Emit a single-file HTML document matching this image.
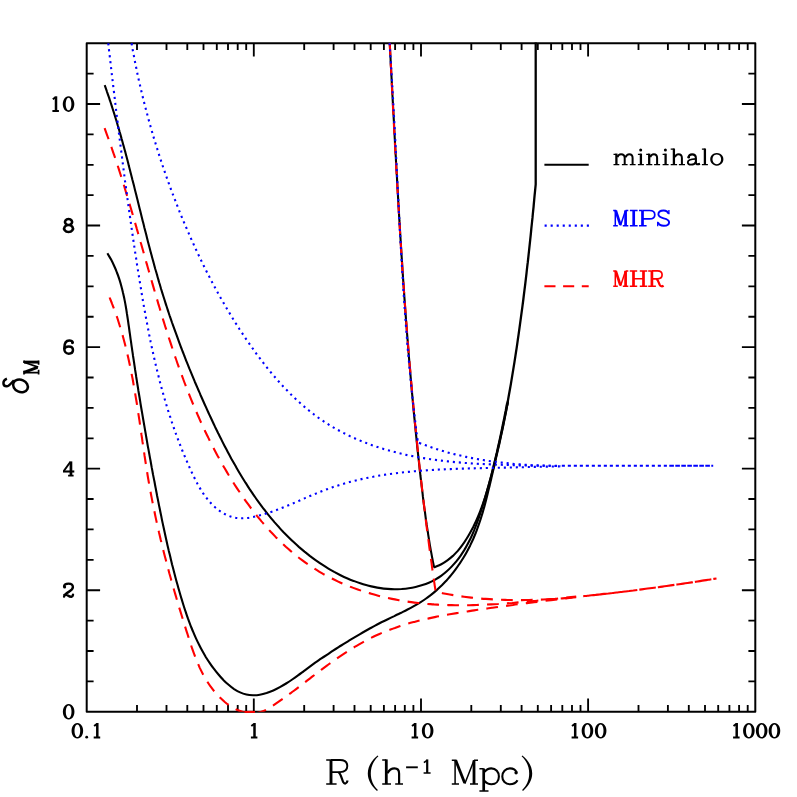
<!DOCTYPE html>
<html><head><meta charset="utf-8"><title>plot</title>
<style>html,body{margin:0;padding:0;background:#fff}svg{display:block;will-change:transform}body{font-family:"Liberation Sans",sans-serif}</style></head><body>
<svg width="797" height="797" viewBox="0 0 797 797">
<rect width="797" height="797" fill="#fff"/>
<defs><clipPath id="c"><rect x="86.7" y="42.4" width="668.6" height="669.3"/></clipPath></defs>
<path d="M137.0,711.8v-6.9M137.0,43.2v6.9M166.5,711.8v-6.9M166.5,43.2v6.9M187.3,711.8v-6.9M187.3,43.2v6.9M203.5,711.8v-6.9M203.5,43.2v6.9M216.8,711.8v-6.9M216.8,43.2v6.9M228.0,711.8v-6.9M228.0,43.2v6.9M237.7,711.8v-6.9M237.7,43.2v6.9M246.2,711.8v-6.9M246.2,43.2v6.9M253.8,711.8v-13.4M253.8,43.2v13.4M304.2,711.8v-6.9M304.2,43.2v6.9M333.6,711.8v-6.9M333.6,43.2v6.9M354.5,711.8v-6.9M354.5,43.2v6.9M370.7,711.8v-6.9M370.7,43.2v6.9M383.9,711.8v-6.9M383.9,43.2v6.9M395.1,711.8v-6.9M395.1,43.2v6.9M404.8,711.8v-6.9M404.8,43.2v6.9M413.4,711.8v-6.9M413.4,43.2v6.9M421.0,711.8v-13.4M421.0,43.2v13.4M471.3,711.8v-6.9M471.3,43.2v6.9M500.8,711.8v-6.9M500.8,43.2v6.9M521.6,711.8v-6.9M521.6,43.2v6.9M537.8,711.8v-6.9M537.8,43.2v6.9M551.1,711.8v-6.9M551.1,43.2v6.9M562.3,711.8v-6.9M562.3,43.2v6.9M572.0,711.8v-6.9M572.0,43.2v6.9M580.5,711.8v-6.9M580.5,43.2v6.9M588.1,711.8v-13.4M588.1,43.2v13.4M638.5,711.8v-6.9M638.5,43.2v6.9M667.9,711.8v-6.9M667.9,43.2v6.9M688.8,711.8v-6.9M688.8,43.2v6.9M705.0,711.8v-6.9M705.0,43.2v6.9M718.2,711.8v-6.9M718.2,43.2v6.9M729.4,711.8v-6.9M729.4,43.2v6.9M739.1,711.8v-6.9M739.1,43.2v6.9M747.7,711.8v-6.9M747.7,43.2v6.9M86.7,681.4h6.9M755.3,681.4h-6.9M86.7,651.0h6.9M755.3,651.0h-6.9M86.7,620.6h6.9M755.3,620.6h-6.9M86.7,590.2h13.4M755.3,590.2h-13.4M86.7,559.8h6.9M755.3,559.8h-6.9M86.7,529.4h6.9M755.3,529.4h-6.9M86.7,499.0h6.9M755.3,499.0h-6.9M86.7,468.6h13.4M755.3,468.6h-13.4M86.7,438.3h6.9M755.3,438.3h-6.9M86.7,407.9h6.9M755.3,407.9h-6.9M86.7,377.5h6.9M755.3,377.5h-6.9M86.7,347.1h13.4M755.3,347.1h-13.4M86.7,316.7h6.9M755.3,316.7h-6.9M86.7,286.3h6.9M755.3,286.3h-6.9M86.7,255.9h6.9M755.3,255.9h-6.9M86.7,225.5h13.4M755.3,225.5h-13.4M86.7,195.1h6.9M755.3,195.1h-6.9M86.7,164.8h6.9M755.3,164.8h-6.9M86.7,134.4h6.9M755.3,134.4h-6.9M86.7,104.0h13.4M755.3,104.0h-13.4M86.7,73.6h6.9M755.3,73.6h-6.9" stroke="#000" stroke-width="1.85" fill="none"/>
<rect x="86.7" y="43.2" width="668.6" height="668.5" fill="none" stroke="#000" stroke-width="2" stroke-linejoin="round"/>
<g clip-path="url(#c)" fill="none" stroke-linejoin="round">
<g stroke="#000" stroke-width="2.1">
<path stroke-width="2.3" d="M535.7,40L535.7,184.3L535.7,184.3C535.5,186.2 535.0,191.7 534.6,195.4C534.3,199.1 533.9,202.8 533.6,206.6C533.2,210.3 532.8,214.0 532.5,217.7C532.1,221.4 531.7,225.1 531.3,228.8C531.0,232.5 530.6,236.2 530.2,239.9C529.8,243.6 529.4,247.3 529.0,251.0C528.6,254.7 528.2,258.4 527.8,262.2C527.3,265.9 526.9,269.6 526.5,273.3C526.1,277.0 525.6,280.7 525.2,284.4C524.7,288.1 524.3,291.8 523.8,295.5C523.4,299.2 522.9,302.9 522.4,306.6C521.9,310.3 521.4,313.9 520.9,317.6C520.4,321.3 519.9,325.0 519.4,328.7C518.9,332.4 518.4,336.1 517.8,339.8C517.3,343.5 516.8,347.2 516.2,350.8C515.6,354.5 515.1,358.2 514.5,361.9C513.9,365.6 513.3,369.2 512.7,372.9C512.1,376.6 511.5,380.3 510.9,383.9C510.2,387.6 509.6,391.3 508.9,395.0C508.3,398.6 507.3,404.1 506.9,406.0"/>
<path d="M104.7,85.1C105.1,86.2 106.3,89.5 107.0,91.8C107.8,94.0 108.6,96.2 109.3,98.4C110.0,100.6 110.8,102.9 111.5,105.1C112.2,107.3 112.9,109.6 113.6,111.8C114.3,114.1 115.0,116.3 115.7,118.5C116.4,120.8 117.1,123.0 117.7,125.3C118.4,127.5 119.1,129.8 119.7,132.1C120.4,134.3 121.0,136.6 121.6,138.8C122.3,141.1 122.9,143.4 123.5,145.6C124.1,147.9 124.7,150.2 125.4,152.4C126.0,154.7 126.6,157.0 127.2,159.3C127.8,161.5 128.4,163.8 128.9,166.1C129.5,168.4 130.1,170.6 130.7,172.9C131.3,175.2 131.9,177.5 132.4,179.8C133.0,182.0 133.6,184.3 134.2,186.6C134.7,188.9 135.3,191.2 135.9,193.5C136.5,195.7 137.0,198.0 137.6,200.3C138.2,202.6 138.7,204.9 139.3,207.2C139.9,209.5 140.4,211.7 141.0,214.0C141.6,216.3 142.1,218.6 142.7,220.9C143.3,223.2 143.9,225.4 144.4,227.7C145.0,230.0 145.6,232.3 146.2,234.6C146.7,236.8 147.3,239.1 147.9,241.4C148.5,243.7 149.1,246.0 149.7,248.2C150.3,250.5 150.9,252.8 151.5,255.1C152.1,257.3 152.7,259.6 153.4,261.9C154.0,264.1 154.6,266.4 155.2,268.7C155.9,270.9 156.5,273.2 157.2,275.4C157.8,277.7 158.5,280.0 159.1,282.2C159.8,284.5 160.5,286.7 161.1,289.0C161.8,291.2 162.5,293.5 163.2,295.7C163.9,297.9 164.6,300.2 165.3,302.4C166.0,304.7 166.8,306.9 167.5,309.1C168.2,311.4 169.0,313.6 169.7,315.8C170.5,318.0 171.3,320.2 172.0,322.5C172.8,324.7 173.6,326.9 174.4,329.1C175.2,331.3 176.0,333.5 176.8,335.7C177.6,338.0 178.4,340.2 179.2,342.4C180.0,344.6 180.8,346.8 181.7,349.0C182.5,351.2 183.4,353.3 184.2,355.5C185.1,357.7 185.9,359.9 186.8,362.1C187.7,364.3 188.6,366.5 189.4,368.7C190.3,370.8 191.2,373.0 192.1,375.2C193.0,377.4 193.9,379.5 194.8,381.7C195.8,383.9 196.7,386.0 197.6,388.2C198.5,390.4 199.5,392.5 200.4,394.7C201.4,396.9 202.3,399.0 203.3,401.2C204.2,403.3 205.2,405.5 206.2,407.6C207.1,409.8 208.1,411.9 209.1,414.1C210.1,416.2 211.1,418.4 212.1,420.5C213.1,422.7 214.1,424.8 215.1,426.9C216.2,429.0 217.2,431.2 218.2,433.3C219.3,435.4 220.3,437.5 221.4,439.6C222.4,441.7 223.5,443.8 224.6,445.9C225.7,448.0 226.8,450.1 227.9,452.2C229.0,454.3 230.1,456.3 231.2,458.4C232.4,460.5 233.5,462.5 234.7,464.6C235.8,466.6 237.0,468.6 238.2,470.7C239.4,472.7 240.6,474.7 241.8,476.7C243.0,478.7 244.3,480.7 245.5,482.7C246.8,484.6 248.0,486.6 249.3,488.6C250.6,490.5 251.9,492.4 253.2,494.4C254.5,496.3 255.9,498.2 257.2,500.1C258.6,502.0 260.0,503.9 261.4,505.8C262.7,507.6 264.2,509.5 265.6,511.3C267.0,513.1 268.5,515.0 270.0,516.8C271.4,518.6 272.9,520.3 274.4,522.1C276.0,523.9 277.5,525.6 279.1,527.3C280.6,529.1 282.2,530.8 283.8,532.5C285.5,534.2 287.1,535.8 288.8,537.5C290.4,539.1 292.1,540.7 293.9,542.3C295.6,543.9 297.3,545.5 299.1,547.1C300.9,548.6 302.7,550.1 304.5,551.6C306.4,553.1 308.3,554.6 310.1,556.1C312.0,557.5 314.0,559.0 315.9,560.3C317.9,561.7 319.9,563.1 321.9,564.4C323.9,565.7 325.9,567.0 328.0,568.3C330.0,569.5 332.1,570.7 334.2,571.9C336.3,573.0 338.4,574.1 340.5,575.2C342.7,576.3 344.8,577.3 347.0,578.2C349.2,579.2 351.4,580.1 353.6,580.9C355.8,581.8 358.0,582.6 360.3,583.3C362.5,584.1 364.7,584.7 367.0,585.3C369.3,585.9 371.5,586.5 373.8,586.9C376.1,587.4 378.4,587.8 380.7,588.1C383.0,588.5 385.3,588.7 387.7,588.9C390.0,589.1 392.3,589.2 394.6,589.2C397.0,589.2 399.3,589.1 401.6,589.0C404.0,588.8 406.3,588.6 408.7,588.2C411.0,587.9 413.3,587.5 415.6,587.0C417.9,586.5 420.1,585.8 422.4,585.1C424.6,584.4 426.8,583.6 428.9,582.7C431.1,581.7 433.2,580.7 435.2,579.6C437.2,578.4 439.2,577.2 441.1,575.8C442.9,574.5 444.8,573.0 446.5,571.5C448.3,569.9 450.0,568.3 451.6,566.6C453.2,564.9 454.8,563.2 456.3,561.4C457.8,559.5 459.2,557.7 460.5,555.8C461.9,553.8 463.1,551.9 464.4,549.9C465.6,547.9 466.7,545.9 467.8,543.8C468.9,541.7 470.0,539.6 471.0,537.5C471.9,535.4 472.9,533.2 473.8,531.1C474.7,528.9 475.6,526.7 476.4,524.5C477.2,522.3 478.0,520.0 478.8,517.8C479.6,515.6 480.3,513.3 481.0,511.0C481.7,508.8 482.4,506.5 483.1,504.2C483.8,502.0 484.5,499.7 485.2,497.4C485.8,495.1 486.5,492.9 487.1,490.6C487.8,488.3 488.4,486.0 489.1,483.7C489.7,481.4 490.3,479.2 490.9,476.9C491.5,474.6 492.1,472.3 492.7,470.0C493.3,467.7 493.9,465.5 494.5,463.2C495.0,460.9 495.6,458.6 496.2,456.3C496.7,454.0 497.3,451.7 497.8,449.4C498.3,447.1 498.9,444.8 499.4,442.5C499.9,440.2 500.4,437.9 500.9,435.6C501.4,433.3 501.9,431.0 502.4,428.8C502.9,426.5 503.4,424.2 503.9,421.8C504.3,419.5 504.8,417.2 505.3,414.9C505.7,412.6 506.2,410.3 506.6,408.0C507.1,405.7 507.7,402.3 508.0,401.1"/>
<path d="M107.4,253.3C108.0,254.4 109.9,257.5 111.1,259.6C112.2,261.7 113.2,263.8 114.2,266.0C115.2,268.1 116.1,270.3 116.9,272.5C117.8,274.7 118.6,276.9 119.3,279.1C120.0,281.4 120.7,283.6 121.3,285.9C121.9,288.1 122.5,290.4 123.0,292.7C123.6,295.0 124.0,297.3 124.5,299.6C125.0,301.9 125.4,304.2 125.8,306.5C126.2,308.8 126.6,311.2 126.9,313.5C127.3,315.8 127.6,318.2 128.0,320.5C128.3,322.9 128.6,325.2 129.0,327.5C129.3,329.9 129.6,332.2 130.0,334.6C130.3,336.9 130.6,339.3 131.0,341.6C131.3,344.0 131.6,346.3 132.0,348.6C132.3,351.0 132.7,353.3 133.0,355.7C133.4,358.0 133.7,360.3 134.1,362.7C134.4,365.0 134.8,367.4 135.1,369.7C135.5,372.0 135.9,374.4 136.2,376.7C136.6,379.0 136.9,381.4 137.3,383.7C137.7,386.0 138.1,388.4 138.4,390.7C138.8,393.0 139.2,395.4 139.6,397.7C140.0,400.0 140.3,402.4 140.7,404.7C141.1,407.0 141.5,409.4 141.9,411.7C142.3,414.0 142.7,416.3 143.1,418.7C143.5,421.0 143.9,423.3 144.3,425.6C144.7,428.0 145.1,430.3 145.5,432.6C145.9,434.9 146.3,437.3 146.7,439.6C147.1,441.9 147.5,444.2 147.9,446.6C148.4,448.9 148.8,451.2 149.2,453.5C149.6,455.8 150.0,458.2 150.5,460.5C150.9,462.8 151.3,465.1 151.7,467.4C152.2,469.7 152.6,472.1 153.0,474.4C153.5,476.7 153.9,479.0 154.4,481.3C154.8,483.6 155.2,485.9 155.7,488.2C156.1,490.6 156.6,492.9 157.0,495.2C157.5,497.5 157.9,499.8 158.4,502.1C158.8,504.4 159.3,506.7 159.8,509.0C160.2,511.3 160.7,513.6 161.2,515.9C161.6,518.2 162.1,520.6 162.6,522.9C163.1,525.2 163.6,527.5 164.1,529.8C164.6,532.1 165.1,534.4 165.6,536.7C166.1,538.9 166.6,541.2 167.1,543.5C167.6,545.8 168.2,548.1 168.7,550.4C169.3,552.7 169.8,555.0 170.4,557.3C170.9,559.6 171.5,561.9 172.0,564.2C172.6,566.5 173.2,568.7 173.8,571.0C174.4,573.3 175.0,575.6 175.6,577.9C176.2,580.2 176.8,582.4 177.5,584.7C178.1,587.0 178.7,589.3 179.4,591.5C180.1,593.8 180.7,596.1 181.4,598.4C182.1,600.6 182.8,602.9 183.5,605.2C184.2,607.4 184.9,609.7 185.7,611.9C186.5,614.2 187.2,616.4 188.0,618.7C188.8,620.9 189.6,623.1 190.5,625.3C191.4,627.5 192.2,629.7 193.2,631.9C194.1,634.1 195.0,636.3 196.0,638.4C197.0,640.6 198.0,642.7 199.1,644.8C200.1,646.9 201.2,649.0 202.4,651.1C203.5,653.1 204.7,655.2 205.9,657.2C207.2,659.2 208.5,661.2 209.8,663.1C211.1,665.1 212.5,667.0 214.0,668.9C215.4,670.8 216.9,672.7 218.5,674.5C220.0,676.4 221.7,678.2 223.3,679.9C225.0,681.6 226.8,683.3 228.6,684.8C230.4,686.4 232.2,687.8 234.1,689.1C236.0,690.3 238.0,691.5 240.1,692.4C242.1,693.3 244.2,694.0 246.4,694.5C248.5,695.0 250.8,695.2 253.0,695.3C255.2,695.3 257.5,695.1 259.8,694.7C262.1,694.4 264.4,693.8 266.6,693.1C268.9,692.3 271.1,691.4 273.3,690.5C275.6,689.5 277.7,688.4 279.9,687.2C282.0,686.0 284.1,684.8 286.1,683.5C288.2,682.2 290.2,680.9 292.2,679.5C294.1,678.2 296.1,676.8 298.0,675.4C300.0,674.0 301.9,672.5 303.8,671.1C305.7,669.7 307.6,668.3 309.5,666.9C311.4,665.5 313.3,664.1 315.2,662.7C317.2,661.4 319.1,660.0 321.0,658.7C323.0,657.4 324.9,656.1 326.9,654.8C328.8,653.5 330.8,652.2 332.7,650.9C334.7,649.6 336.6,648.4 338.6,647.1C340.6,645.9 342.6,644.6 344.6,643.4C346.6,642.2 348.6,640.9 350.6,639.7C352.6,638.5 354.6,637.3 356.6,636.1C358.6,634.9 360.7,633.7 362.7,632.5C364.8,631.3 366.8,630.2 368.9,629.0C370.9,627.9 373.0,626.7 375.1,625.6C377.2,624.5 379.3,623.4 381.4,622.3C383.6,621.3 385.7,620.2 387.8,619.2C390.0,618.1 392.1,617.1 394.3,616.1C396.4,615.0 398.6,614.0 400.7,613.0C402.9,611.9 405.0,610.9 407.1,609.8C409.2,608.7 411.3,607.6 413.4,606.4C415.4,605.3 417.5,604.1 419.5,602.9C421.5,601.7 423.4,600.4 425.4,599.0C427.3,597.7 429.2,596.3 431.0,594.9C432.9,593.4 434.7,591.9 436.4,590.4C438.2,588.8 439.9,587.2 441.6,585.6C443.2,583.9 444.9,582.2 446.5,580.5C448.0,578.7 449.6,577.0 451.1,575.1C452.6,573.3 454.0,571.5 455.4,569.6C456.8,567.7 458.2,565.8 459.5,563.8C460.9,561.8 462.1,559.9 463.4,557.8C464.6,555.8 465.8,553.8 466.9,551.7C468.0,549.6 469.1,547.5 470.2,545.4C471.2,543.3 472.2,541.2 473.2,539.0C474.1,536.8 475.0,534.7 475.9,532.5C476.7,530.3 477.6,528.1 478.3,525.9C479.1,523.6 479.9,521.4 480.6,519.2C481.3,516.9 482.0,514.6 482.7,512.4C483.3,510.1 484.0,507.8 484.6,505.6C485.2,503.3 485.8,501.0 486.4,498.7C487.0,496.4 487.6,494.1 488.1,491.8C488.7,489.5 489.2,487.2 489.8,484.9C490.3,482.6 490.9,480.3 491.4,478.0C492.0,475.7 492.5,473.4 493.0,471.1C493.6,468.8 494.1,466.5 494.7,464.2C495.2,461.9 495.7,459.6 496.2,457.3C496.8,455.0 497.3,452.7 497.8,450.4C498.3,448.1 498.9,445.8 499.4,443.5C499.9,441.2 500.4,438.9 500.9,436.6C501.4,434.3 501.9,432.0 502.4,429.7C502.9,427.4 503.4,425.1 503.8,422.8C504.3,420.4 504.8,418.1 505.2,415.8C505.7,413.5 506.2,411.2 506.6,408.9C507.0,406.6 507.7,403.1 507.9,402.0"/>
<path d="M389.7,43.3C389.8,44.5 390.0,48.0 390.1,50.4C390.2,52.8 390.3,55.1 390.5,57.5C390.6,59.8 390.7,62.2 390.8,64.6C391.0,66.9 391.1,69.3 391.2,71.7C391.3,74.0 391.5,76.4 391.6,78.8C391.7,81.1 391.8,83.5 392.0,85.9C392.1,88.2 392.2,90.6 392.3,93.0C392.5,95.3 392.6,97.7 392.7,100.1C392.9,102.4 393.0,104.8 393.1,107.2C393.2,109.5 393.4,111.9 393.5,114.3C393.6,116.6 393.7,119.0 393.9,121.3C394.0,123.7 394.1,126.1 394.2,128.4C394.4,130.8 394.5,133.2 394.6,135.5C394.7,137.9 394.9,140.3 395.0,142.6C395.1,145.0 395.3,147.4 395.4,149.7C395.5,152.1 395.6,154.5 395.8,156.8C395.9,159.2 396.0,161.6 396.2,163.9C396.3,166.3 396.4,168.6 396.6,171.0C396.7,173.4 396.8,175.7 397.0,178.1C397.1,180.5 397.2,182.8 397.4,185.2C397.5,187.6 397.6,189.9 397.8,192.3C397.9,194.7 398.0,197.0 398.2,199.4C398.3,201.7 398.4,204.1 398.6,206.5C398.7,208.8 398.9,211.2 399.0,213.6C399.1,215.9 399.3,218.3 399.4,220.7C399.6,223.0 399.7,225.4 399.9,227.7C400.0,230.1 400.1,232.5 400.3,234.8C400.4,237.2 400.6,239.6 400.7,241.9C400.9,244.3 401.0,246.7 401.2,249.0C401.3,251.4 401.5,253.7 401.6,256.1C401.8,258.5 401.9,260.8 402.1,263.2C402.2,265.6 402.4,267.9 402.5,270.3C402.7,272.6 402.9,275.0 403.0,277.4C403.2,279.7 403.3,282.1 403.5,284.5C403.7,286.8 403.8,289.2 404.0,291.5C404.2,293.9 404.3,296.3 404.5,298.6C404.7,301.0 404.8,303.4 405.0,305.7C405.2,308.1 405.3,310.4 405.5,312.8C405.7,315.2 405.9,317.5 406.0,319.9C406.2,322.2 406.4,324.6 406.6,327.0C406.7,329.3 406.9,331.7 407.1,334.0C407.3,336.4 407.5,338.8 407.7,341.1C407.8,343.5 408.0,345.8 408.2,348.2C408.4,350.6 408.6,352.9 408.8,355.3C409.0,357.6 409.2,360.0 409.4,362.4C409.6,364.7 409.8,367.1 410.0,369.4C410.2,371.8 410.4,374.2 410.6,376.5C410.8,378.9 411.0,381.2 411.2,383.6C411.4,386.0 411.6,388.3 411.8,390.7C412.0,393.0 412.3,395.4 412.5,397.8C412.7,400.1 412.9,402.5 413.1,404.8C413.3,407.2 413.6,409.5 413.8,411.9C414.0,414.3 414.2,416.6 414.5,419.0C414.7,421.3 414.9,423.7 415.2,426.0C415.4,428.4 415.6,430.8 415.9,433.1C416.1,435.5 416.4,437.8 416.6,440.2C416.8,442.5 417.1,444.9 417.3,447.3C417.6,449.6 417.8,452.0 418.1,454.3C418.3,456.7 418.6,459.0 418.9,461.4C419.1,463.8 419.4,466.1 419.6,468.5C419.9,470.8 420.2,473.2 420.4,475.5C420.7,477.9 421.0,480.2 421.3,482.6C421.5,484.9 421.8,487.3 422.1,489.7C422.4,492.0 422.7,494.4 422.9,496.7C423.2,499.1 423.5,501.4 423.8,503.8C424.1,506.1 424.4,508.5 424.8,510.8C425.1,513.2 425.4,515.5 425.7,517.8C426.0,520.2 426.4,522.5 426.7,524.9C427.1,527.2 427.4,529.6 427.8,531.9C428.1,534.2 428.5,536.6 428.9,538.9C429.3,541.2 429.6,543.6 430.0,545.9C430.4,548.2 430.8,550.6 431.3,552.9C431.7,555.2 432.1,557.5 432.6,559.8C433.0,562.2 433.8,565.6 434.0,566.8L434.5,567.2C435.6,566.7 439.1,565.3 441.3,564.2C443.5,563.1 445.5,561.8 447.4,560.4C449.3,559.0 451.1,557.5 452.9,555.9C454.6,554.3 456.2,552.6 457.8,550.9C459.3,549.1 460.8,547.3 462.1,545.4C463.5,543.5 464.9,541.5 466.1,539.5C467.4,537.6 468.6,535.5 469.7,533.5C470.9,531.4 472.0,529.3 473.1,527.2C474.1,525.1 475.1,523.0 476.1,520.9C477.1,518.7 478.0,516.6 478.9,514.4C479.8,512.2 480.6,510.0 481.5,507.7C482.3,505.5 483.1,503.3 483.8,501.0C484.6,498.8 485.3,496.5 486.0,494.2C486.7,491.9 487.4,489.6 488.1,487.3C488.7,485.0 489.3,482.7 490.0,480.4C490.6,478.1 491.2,475.8 491.8,473.4C492.4,471.1 492.9,468.8 493.5,466.4C494.0,464.1 494.6,461.8 495.1,459.4C495.7,457.1 496.2,454.8 496.8,452.4C497.3,450.1 497.8,447.8 498.3,445.4C498.9,443.1 499.4,440.8 499.9,438.4C500.4,436.1 500.9,433.7 501.4,431.4C501.9,429.1 502.4,426.7 502.8,424.4C503.3,422.1 503.8,419.7 504.3,417.4C504.7,415.1 505.2,412.7 505.7,410.4C506.1,408.0 506.8,404.5 507.0,403.4"/>
</g>
<g stroke="#f00" stroke-width="2.1" stroke-dasharray="11.7 8.2">
<path d="M104.6,128.2C105.0,129.3 106.2,132.6 107.0,134.8C107.8,137.0 108.6,139.2 109.4,141.4C110.2,143.6 111.0,145.8 111.7,148.0C112.5,150.3 113.3,152.5 114.0,154.7C114.8,156.9 115.5,159.1 116.3,161.4C117.0,163.6 117.7,165.8 118.5,168.1C119.2,170.3 119.9,172.6 120.6,174.8C121.3,177.1 122.0,179.3 122.8,181.6C123.5,183.8 124.2,186.1 124.8,188.3C125.5,190.6 126.2,192.8 126.9,195.1C127.6,197.3 128.3,199.6 129.0,201.9C129.6,204.1 130.3,206.4 131.0,208.7C131.6,210.9 132.3,213.2 133.0,215.5C133.6,217.8 134.3,220.0 134.9,222.3C135.6,224.6 136.3,226.9 136.9,229.1C137.6,231.4 138.2,233.7 138.9,236.0C139.5,238.3 140.2,240.5 140.8,242.8C141.5,245.1 142.1,247.4 142.8,249.7C143.4,251.9 144.1,254.2 144.7,256.5C145.4,258.8 146.0,261.1 146.6,263.4C147.3,265.6 147.9,267.9 148.6,270.2C149.2,272.5 149.9,274.8 150.6,277.1C151.2,279.3 151.9,281.6 152.5,283.9C153.2,286.2 153.8,288.5 154.5,290.7C155.2,293.0 155.8,295.3 156.5,297.6C157.2,299.8 157.9,302.1 158.5,304.4C159.2,306.7 159.9,308.9 160.6,311.2C161.3,313.5 161.9,315.7 162.6,318.0C163.3,320.3 164.0,322.5 164.7,324.8C165.4,327.1 166.2,329.3 166.9,331.6C167.6,333.8 168.3,336.1 169.0,338.3C169.8,340.6 170.5,342.8 171.3,345.1C172.0,347.3 172.7,349.6 173.5,351.8C174.3,354.1 175.0,356.3 175.8,358.5C176.6,360.8 177.3,363.0 178.1,365.2C178.9,367.5 179.7,369.7 180.5,371.9C181.3,374.1 182.2,376.3 183.0,378.5C183.8,380.8 184.6,383.0 185.5,385.2C186.3,387.4 187.2,389.6 188.1,391.8C188.9,394.0 189.8,396.1 190.7,398.3C191.6,400.5 192.5,402.7 193.4,404.9C194.3,407.0 195.2,409.2 196.1,411.4C197.1,413.5 198.0,415.7 199.0,417.8C199.9,420.0 200.9,422.1 201.9,424.3C202.9,426.4 203.9,428.6 204.9,430.7C205.9,432.8 206.9,435.0 208.0,437.1C209.0,439.2 210.1,441.3 211.1,443.4C212.2,445.5 213.3,447.6 214.4,449.7C215.5,451.8 216.6,453.9 217.7,456.0C218.9,458.0 220.0,460.1 221.2,462.2C222.3,464.2 223.5,466.3 224.7,468.3C225.9,470.4 227.1,472.4 228.3,474.5C229.6,476.5 230.8,478.5 232.1,480.5C233.3,482.6 234.6,484.6 235.9,486.6C237.2,488.6 238.5,490.5 239.9,492.5C241.2,494.5 242.6,496.5 243.9,498.4C245.3,500.4 246.7,502.3 248.1,504.2C249.5,506.2 250.9,508.1 252.4,510.0C253.8,511.8 255.3,513.7 256.8,515.6C258.3,517.4 259.8,519.3 261.3,521.1C262.9,522.9 264.4,524.7 266.0,526.5C267.5,528.3 269.1,530.0 270.7,531.8C272.4,533.5 274.0,535.2 275.6,536.9C277.3,538.6 279.0,540.2 280.7,541.9C282.4,543.5 284.1,545.1 285.8,546.7C287.6,548.3 289.3,549.8 291.1,551.4C292.9,552.9 294.7,554.4 296.5,555.8C298.3,557.3 300.2,558.7 302.1,560.1C303.9,561.5 305.8,562.9 307.8,564.2C309.7,565.6 311.6,566.9 313.6,568.1C315.5,569.4 317.5,570.6 319.5,571.8C321.6,573.0 323.6,574.2 325.6,575.3C327.7,576.4 329.8,577.5 331.9,578.5C334.0,579.6 336.1,580.6 338.2,581.6C340.3,582.6 342.5,583.5 344.7,584.4C346.8,585.4 349.0,586.2 351.2,587.1C353.4,587.9 355.6,588.7 357.8,589.5C360.1,590.3 362.3,591.1 364.5,591.8C366.8,592.5 369.1,593.2 371.3,593.8C373.6,594.5 375.9,595.1 378.2,595.7C380.4,596.3 382.7,596.9 385.0,597.4C387.3,597.9 389.6,598.4 392.0,598.9C394.3,599.4 396.6,599.8 398.9,600.2C401.2,600.6 403.6,601.0 405.9,601.4C408.2,601.7 410.5,602.1 412.9,602.4C415.2,602.7 417.6,602.9 419.9,603.2C422.2,603.4 424.6,603.7 426.9,603.9C429.3,604.1 431.6,604.2 434.0,604.4C436.3,604.5 438.7,604.7 441.1,604.8C443.4,604.9 445.8,605.0 448.1,605.1C450.5,605.1 452.9,605.2 455.2,605.2C457.6,605.2 460.0,605.3 462.4,605.2C464.7,605.2 467.1,605.2 469.5,605.2C471.8,605.1 474.2,605.1 476.6,605.0C479.0,604.9 481.3,604.8 483.7,604.7C486.1,604.6 488.5,604.5 490.9,604.4C493.2,604.3 495.6,604.1 498.0,604.0C500.4,603.8 502.8,603.7 505.1,603.5C507.5,603.3 509.9,603.1 512.3,603.0C514.6,602.8 517.0,602.6 519.4,602.3C521.8,602.1 524.2,601.9 526.5,601.7C528.9,601.5 531.3,601.2 533.7,601.0C536.0,600.8 538.4,600.5 540.8,600.3C543.1,600.0 545.5,599.8 547.9,599.5C550.3,599.3 552.6,599.0 555.0,598.8C557.3,598.5 559.7,598.3 562.1,598.0C564.4,597.8 566.8,597.5 569.1,597.2C571.5,597.0 575.0,596.6 576.2,596.5"/>
<path d="M109.6,297.5C110.0,298.6 111.4,301.9 112.2,304.1C113.1,306.3 113.9,308.5 114.7,310.7C115.5,312.9 116.3,315.1 117.1,317.3C117.8,319.6 118.5,321.8 119.2,324.0C119.9,326.3 120.6,328.5 121.3,330.8C122.0,333.0 122.6,335.3 123.2,337.5C123.8,339.8 124.4,342.1 125.0,344.3C125.6,346.6 126.2,348.9 126.7,351.2C127.3,353.5 127.8,355.8 128.3,358.1C128.8,360.3 129.3,362.6 129.8,365.0C130.3,367.3 130.8,369.6 131.2,371.9C131.7,374.2 132.1,376.5 132.6,378.8C133.0,381.1 133.4,383.5 133.8,385.8C134.2,388.1 134.7,390.4 135.0,392.8C135.4,395.1 135.8,397.4 136.2,399.8C136.6,402.1 137.0,404.4 137.3,406.8C137.7,409.1 138.0,411.4 138.4,413.8C138.8,416.1 139.1,418.5 139.5,420.8C139.8,423.1 140.1,425.5 140.5,427.8C140.8,430.2 141.2,432.5 141.5,434.9C141.9,437.2 142.2,439.6 142.5,441.9C142.9,444.2 143.2,446.6 143.6,448.9C143.9,451.3 144.3,453.6 144.6,456.0C145.0,458.3 145.3,460.6 145.7,463.0C146.1,465.3 146.4,467.7 146.8,470.0C147.2,472.3 147.5,474.7 147.9,477.0C148.3,479.3 148.7,481.6 149.1,484.0C149.5,486.3 150.0,488.6 150.4,490.9C150.8,493.3 151.2,495.6 151.7,497.9C152.1,500.2 152.6,502.5 153.0,504.8C153.5,507.1 154.0,509.4 154.5,511.7C154.9,514.0 155.4,516.3 155.9,518.6C156.4,520.9 156.9,523.2 157.5,525.5C158.0,527.8 158.5,530.1 159.0,532.4C159.6,534.7 160.1,537.0 160.6,539.3C161.2,541.6 161.7,543.9 162.3,546.1C162.9,548.4 163.4,550.7 164.0,553.0C164.6,555.3 165.2,557.5 165.8,559.8C166.4,562.1 167.0,564.4 167.6,566.6C168.2,568.9 168.8,571.2 169.4,573.5C170.1,575.7 170.7,578.0 171.3,580.3C172.0,582.6 172.6,584.8 173.2,587.1C173.9,589.4 174.5,591.6 175.2,593.9C175.9,596.2 176.5,598.4 177.2,600.7C177.9,603.0 178.5,605.2 179.2,607.5C179.9,609.8 180.6,612.0 181.3,614.3C182.0,616.6 182.7,618.8 183.4,621.1C184.1,623.4 184.8,625.6 185.5,627.9C186.2,630.2 186.9,632.4 187.7,634.7C188.4,637.0 189.1,639.2 189.9,641.5C190.6,643.8 191.3,646.0 192.1,648.3C192.9,650.5 193.7,652.7 194.5,655.0C195.4,657.2 196.2,659.4 197.1,661.6C198.0,663.8 199.0,665.9 199.9,668.1C200.9,670.2 202.0,672.3 203.1,674.4C204.2,676.5 205.4,678.5 206.6,680.5C207.8,682.5 209.1,684.5 210.5,686.4C211.9,688.3 213.3,690.2 214.9,692.0C216.4,693.9 218.1,695.7 219.8,697.4C221.5,699.0 223.3,700.7 225.1,702.2C227.0,703.7 228.9,705.1 230.9,706.4C232.8,707.7 234.9,708.8 236.9,709.8C239.0,710.7 241.1,711.5 243.2,712.1C245.3,712.7 247.5,713.1 249.7,713.3C251.8,713.4 254.0,713.4 256.2,713.1C258.4,712.7 260.6,712.2 262.8,711.3C265.0,710.5 267.2,709.3 269.4,708.0C271.5,706.7 273.7,705.2 275.8,703.7C277.9,702.3 279.9,700.8 282.0,699.3C284.0,697.9 285.9,696.5 287.9,695.1C289.8,693.7 291.7,692.4 293.6,691.0C295.5,689.6 297.3,688.2 299.1,686.8C301.0,685.4 302.8,684.0 304.6,682.6C306.4,681.2 308.3,679.7 310.1,678.3C311.9,676.9 313.8,675.5 315.6,674.1C317.5,672.6 319.4,671.2 321.2,669.8C323.1,668.4 325.0,667.0 326.9,665.6C328.8,664.2 330.8,662.8 332.7,661.4C334.6,660.1 336.6,658.7 338.5,657.3C340.5,656.0 342.5,654.7 344.5,653.4C346.5,652.1 348.5,650.8 350.5,649.5C352.5,648.2 354.5,647.0 356.6,645.8C358.6,644.6 360.7,643.4 362.7,642.3C364.8,641.1 366.9,640.0 369.0,638.9C371.1,637.9 373.2,636.8 375.4,635.8C377.5,634.8 379.6,633.9 381.8,632.9C384.0,632.0 386.1,631.1 388.3,630.3C390.5,629.5 392.7,628.6 394.9,627.9C397.1,627.1 399.4,626.4 401.6,625.6C403.8,624.9 406.1,624.3 408.3,623.6C410.6,622.9 412.9,622.3 415.1,621.7C417.4,621.1 419.7,620.5 422.0,620.0C424.3,619.4 426.6,618.9 428.9,618.4C431.2,617.9 433.5,617.4 435.8,616.9C438.1,616.5 440.4,616.0 442.8,615.6C445.1,615.1 447.4,614.7 449.8,614.3C452.1,613.9 454.4,613.5 456.8,613.1C459.1,612.7 461.4,612.4 463.8,612.0C466.1,611.6 468.5,611.3 470.8,610.9C473.2,610.5 475.5,610.2 477.8,609.8C480.2,609.5 482.5,609.2 484.9,608.8C487.2,608.5 489.6,608.1 491.9,607.8C494.2,607.5 496.6,607.2 498.9,606.8C501.3,606.5 503.6,606.2 505.9,605.9C508.3,605.6 510.6,605.3 513.0,605.0C515.3,604.6 517.7,604.3 520.0,604.0C522.3,603.7 524.7,603.4 527.0,603.1C529.4,602.8 531.7,602.6 534.0,602.3C536.4,602.0 538.7,601.7 541.1,601.4C543.4,601.1 545.8,600.8 548.1,600.5C550.4,600.3 552.8,600.0 555.1,599.7C557.5,599.4 559.8,599.1 562.1,598.9C564.5,598.6 566.8,598.3 569.2,598.0C571.5,597.7 575.0,597.3 576.2,597.2"/>
<path d="M389.8,43.3C389.8,44.5 390.0,48.0 390.1,50.4C390.2,52.8 390.4,55.2 390.5,57.5C390.6,59.9 390.7,62.3 390.8,64.7C391.0,67.1 391.1,69.4 391.2,71.8C391.3,74.2 391.4,76.6 391.6,78.9C391.7,81.3 391.8,83.7 391.9,86.1C392.0,88.4 392.2,90.8 392.3,93.2C392.4,95.6 392.5,97.9 392.7,100.3C392.8,102.7 392.9,105.1 393.0,107.5C393.1,109.8 393.3,112.2 393.4,114.6C393.5,117.0 393.6,119.3 393.8,121.7C393.9,124.1 394.0,126.5 394.1,128.8C394.3,131.2 394.4,133.6 394.5,136.0C394.7,138.3 394.8,140.7 394.9,143.1C395.0,145.5 395.2,147.9 395.3,150.2C395.4,152.6 395.6,155.0 395.7,157.4C395.8,159.7 395.9,162.1 396.1,164.5C396.2,166.9 396.3,169.2 396.5,171.6C396.6,174.0 396.7,176.4 396.9,178.7C397.0,181.1 397.1,183.5 397.3,185.9C397.4,188.2 397.6,190.6 397.7,193.0C397.8,195.4 398.0,197.7 398.1,200.1C398.3,202.5 398.4,204.9 398.5,207.3C398.7,209.6 398.8,212.0 399.0,214.4C399.1,216.8 399.3,219.1 399.4,221.5C399.5,223.9 399.7,226.3 399.8,228.6C400.0,231.0 400.1,233.4 400.3,235.8C400.4,238.1 400.6,240.5 400.7,242.9C400.9,245.3 401.0,247.6 401.2,250.0C401.4,252.4 401.5,254.8 401.7,257.1C401.8,259.5 402.0,261.9 402.1,264.3C402.3,266.6 402.5,269.0 402.6,271.4C402.8,273.7 402.9,276.1 403.1,278.5C403.3,280.9 403.4,283.2 403.6,285.6C403.8,288.0 403.9,290.4 404.1,292.7C404.3,295.1 404.5,297.5 404.6,299.9C404.8,302.2 405.0,304.6 405.1,307.0C405.3,309.4 405.5,311.7 405.7,314.1C405.9,316.5 406.0,318.8 406.2,321.2C406.4,323.6 406.6,326.0 406.8,328.3C406.9,330.7 407.1,333.1 407.3,335.4C407.5,337.8 407.7,340.2 407.9,342.6C408.1,344.9 408.3,347.3 408.5,349.7C408.7,352.0 408.8,354.4 409.0,356.8C409.2,359.2 409.4,361.5 409.6,363.9C409.8,366.3 410.0,368.6 410.3,371.0C410.5,373.4 410.7,375.8 410.9,378.1C411.1,380.5 411.3,382.9 411.5,385.2C411.7,387.6 411.9,390.0 412.1,392.3C412.4,394.7 412.6,397.1 412.8,399.5C413.0,401.8 413.2,404.2 413.5,406.6C413.7,408.9 413.9,411.3 414.1,413.7C414.4,416.0 414.6,418.4 414.8,420.8C415.0,423.1 415.3,425.5 415.5,427.9C415.8,430.2 416.0,432.6 416.2,435.0C416.5,437.3 416.7,439.7 417.0,442.1C417.2,444.4 417.4,446.8 417.7,449.2C417.9,451.5 418.2,453.9 418.4,456.3C418.7,458.6 419.0,461.0 419.2,463.4C419.5,465.7 419.7,468.1 420.0,470.5C420.2,472.8 420.5,475.2 420.8,477.6C421.0,479.9 421.3,482.3 421.6,484.6C421.9,487.0 422.1,489.4 422.4,491.7C422.7,494.1 423.0,496.5 423.2,498.8C423.5,501.2 423.8,503.5 424.1,505.9C424.4,508.3 424.7,510.6 425.0,513.0C425.2,515.4 425.5,517.7 425.8,520.1C426.1,522.4 426.4,524.8 426.7,527.2C427.0,529.5 427.3,531.9 427.6,534.2C428.0,536.6 428.3,539.0 428.6,541.3C428.9,543.7 429.2,546.0 429.5,548.4C429.8,550.8 430.2,553.1 430.5,555.5C430.8,557.8 431.1,560.2 431.5,562.6C431.8,564.9 432.1,567.3 432.4,569.6C432.8,572.0 433.1,574.3 433.5,576.7C433.8,579.1 434.1,581.4 434.5,583.8C434.8,586.1 435.4,589.7 435.5,590.8L435.3,591.7C436.5,591.9 440.1,592.7 442.5,593.2C444.9,593.7 447.3,594.1 449.7,594.5C452.1,594.9 454.5,595.3 456.8,595.7C459.2,596.1 461.6,596.4 464.0,596.7C466.4,597.0 468.8,597.3 471.2,597.6C473.6,597.9 476.0,598.1 478.4,598.3C480.8,598.6 483.2,598.8 485.6,598.9C488.0,599.1 490.4,599.3 492.9,599.4C495.3,599.5 497.7,599.7 500.1,599.7C502.5,599.8 504.9,599.9 507.3,600.0C509.7,600.0 512.1,600.1 514.5,600.1C516.9,600.1 519.4,600.1 521.8,600.1C524.2,600.1 526.6,600.0 529.0,600.0C531.4,599.9 533.8,599.9 536.2,599.8C538.7,599.7 541.1,599.6 543.5,599.5C545.9,599.4 548.3,599.2 550.7,599.1C553.1,599.0 555.6,598.8 558.0,598.6C560.4,598.5 562.8,598.3 565.2,598.1C567.6,597.9 570.1,597.7 572.5,597.5C574.9,597.3 578.5,596.9 579.7,596.8"/>
<path stroke-dasharray="54.5 2 16.7 2 16.7 2 16.7 2 16.7 2 16.7 2" d="M583.2,596.2C583.9,596.1 586.0,595.9 587.4,595.7C588.8,595.6 590.2,595.4 591.5,595.3C592.9,595.2 594.3,595.0 595.7,594.9C597.1,594.7 598.5,594.5 599.9,594.4C601.3,594.2 602.7,594.1 604.1,593.9C605.5,593.8 606.9,593.6 608.3,593.5C609.7,593.3 611.0,593.1 612.4,593.0C613.8,592.8 615.2,592.7 616.6,592.5C618.0,592.3 619.4,592.2 620.8,592.0C622.2,591.8 623.6,591.7 625.0,591.5C626.4,591.3 627.7,591.1 629.1,591.0C630.5,590.8 631.9,590.6 633.3,590.5C634.7,590.3 636.1,590.1 637.5,589.9C638.9,589.7 640.3,589.6 641.7,589.4C643.0,589.2 644.4,589.0 645.8,588.8C647.2,588.7 648.6,588.5 650.0,588.3C651.4,588.1 652.8,587.9 654.2,587.7C655.5,587.5 656.9,587.4 658.3,587.2C659.7,587.0 661.1,586.8 662.5,586.6C663.9,586.4 665.3,586.2 666.7,586.0C668.0,585.8 669.4,585.6 670.8,585.4C672.2,585.2 673.6,585.0 675.0,584.8C676.4,584.6 677.7,584.4 679.1,584.2C680.5,584.0 681.9,583.8 683.3,583.6C684.7,583.4 686.1,583.2 687.5,583.0C688.8,582.8 690.2,582.6 691.6,582.4C693.0,582.2 694.4,581.9 695.8,581.7C697.1,581.5 698.5,581.3 699.9,581.1C701.3,580.9 702.7,580.7 704.1,580.4C705.5,580.2 706.8,580.0 708.2,579.8C709.6,579.6 711.0,579.3 712.4,579.1C713.8,578.9 715.8,578.6 716.5,578.5"/>
</g>
<g stroke="#00f" stroke-width="2.1" stroke-dasharray="2.1 3.9">
<path stroke-dashoffset="2.8" d="M131.0,40.1C131.2,41.3 131.8,44.7 132.2,47.0C132.6,49.3 133.0,51.6 133.5,53.9C133.9,56.2 134.4,58.5 134.8,60.8C135.3,63.1 135.7,65.4 136.2,67.7C136.7,70.0 137.1,72.3 137.6,74.6C138.1,76.9 138.6,79.2 139.1,81.5C139.7,83.8 140.2,86.1 140.7,88.4C141.2,90.7 141.8,92.9 142.3,95.2C142.9,97.5 143.5,99.8 144.0,102.1C144.6,104.4 145.2,106.7 145.8,108.9C146.4,111.2 147.0,113.5 147.6,115.8C148.2,118.1 148.8,120.3 149.4,122.6C150.1,124.9 150.7,127.1 151.4,129.4C152.0,131.7 152.7,134.0 153.3,136.2C154.0,138.5 154.7,140.7 155.4,143.0C156.1,145.3 156.8,147.5 157.5,149.8C158.2,152.0 158.9,154.3 159.6,156.5C160.3,158.8 161.1,161.0 161.8,163.3C162.6,165.5 163.3,167.7 164.1,170.0C164.9,172.2 165.6,174.4 166.4,176.7C167.2,178.9 168.0,181.1 168.8,183.3C169.6,185.6 170.4,187.8 171.2,190.0C172.0,192.2 172.9,194.4 173.7,196.6C174.6,198.8 175.4,201.0 176.3,203.2C177.1,205.4 178.0,207.6 178.9,209.8C179.7,212.0 180.6,214.2 181.5,216.4C182.4,218.6 183.3,220.7 184.2,222.9C185.1,225.1 186.1,227.2 187.0,229.4C187.9,231.6 188.9,233.7 189.8,235.9C190.8,238.0 191.7,240.2 192.7,242.3C193.7,244.5 194.6,246.6 195.6,248.7C196.6,250.9 197.6,253.0 198.6,255.1C199.6,257.2 200.6,259.3 201.6,261.4C202.7,263.6 203.7,265.7 204.7,267.8C205.8,269.9 206.8,272.0 207.9,274.0C209.0,276.1 210.0,278.2 211.1,280.3C212.2,282.4 213.3,284.4 214.4,286.5C215.5,288.6 216.6,290.6 217.8,292.7C218.9,294.7 220.0,296.8 221.2,298.8C222.4,300.9 223.5,302.9 224.7,304.9C225.9,307.0 227.1,309.0 228.3,311.0C229.5,313.0 230.7,315.0 231.9,317.0C233.1,319.0 234.4,321.0 235.6,323.0C236.9,325.0 238.2,327.0 239.4,329.0C240.7,331.0 242.0,332.9 243.3,334.9C244.6,336.9 245.9,338.8 247.3,340.8C248.6,342.7 250.0,344.7 251.3,346.6C252.7,348.5 254.1,350.5 255.4,352.4C256.8,354.3 258.2,356.2 259.7,358.1C261.1,360.0 262.5,361.9 264.0,363.8C265.4,365.7 266.9,367.5 268.4,369.4C269.9,371.2 271.4,373.0 272.9,374.8C274.5,376.6 276.0,378.4 277.6,380.2C279.1,382.0 280.7,383.7 282.3,385.5C283.9,387.2 285.5,388.9 287.2,390.6C288.8,392.3 290.5,394.0 292.1,395.6C293.8,397.2 295.5,398.9 297.3,400.5C299.0,402.0 300.7,403.6 302.5,405.1C304.3,406.7 306.1,408.2 307.9,409.7C309.7,411.1 311.5,412.6 313.4,414.0C315.2,415.4 317.1,416.8 319.0,418.2C320.9,419.5 322.9,420.8 324.8,422.1C326.8,423.4 328.8,424.7 330.8,425.9C332.8,427.1 334.8,428.3 336.9,429.4C338.9,430.5 341.0,431.7 343.1,432.7C345.2,433.8 347.3,434.9 349.4,435.9C351.5,436.9 353.7,437.8 355.8,438.8C358.0,439.7 360.2,440.6 362.4,441.5C364.6,442.4 366.8,443.2 369.0,444.1C371.2,444.9 373.4,445.7 375.7,446.4C377.9,447.2 380.1,447.9 382.4,448.6C384.6,449.3 386.9,450.0 389.2,450.6C391.4,451.2 393.7,451.8 396.0,452.4C398.3,453.0 400.6,453.5 402.9,454.1C405.1,454.6 407.4,455.1 409.7,455.6C412.0,456.0 414.4,456.5 416.7,456.9C419.0,457.3 421.3,457.7 423.6,458.1C425.9,458.5 428.3,458.9 430.6,459.2C432.9,459.5 435.2,459.9 437.6,460.2C439.9,460.5 442.3,460.7 444.6,461.0C446.9,461.3 449.3,461.5 451.6,461.8C454.0,462.0 456.3,462.2 458.7,462.4C461.0,462.6 463.4,462.8 465.7,463.0C468.1,463.1 470.5,463.3 472.8,463.5C475.2,463.6 477.5,463.8 479.9,463.9C482.2,464.0 484.6,464.1 487.0,464.2C489.3,464.3 491.7,464.4 494.0,464.5C496.4,464.6 498.8,464.7 501.1,464.8C503.5,464.9 505.8,465.0 508.2,465.0C510.6,465.1 512.9,465.2 515.3,465.2C517.6,465.3 520.0,465.4 522.3,465.4C524.7,465.5 527.1,465.5 529.4,465.6C531.8,465.6 534.1,465.6 536.5,465.7C538.8,465.7 541.2,465.7 543.5,465.8C545.9,465.8 548.2,465.8 550.6,465.8C552.9,465.9 556.1,465.9 557.6,465.9C559.2,465.9 559.6,465.9 560.0,465.9"/>
<path stroke-dashoffset="2.8" d="M107.9,40.1C108.0,41.2 108.4,44.7 108.7,47.1C108.9,49.4 109.2,51.7 109.5,54.1C109.8,56.4 110.0,58.8 110.3,61.1C110.6,63.4 110.8,65.8 111.1,68.1C111.4,70.5 111.7,72.8 111.9,75.1C112.2,77.5 112.5,79.8 112.8,82.2C113.1,84.5 113.3,86.9 113.6,89.2C113.9,91.6 114.2,93.9 114.5,96.2C114.7,98.6 115.0,100.9 115.3,103.3C115.6,105.6 115.9,108.0 116.1,110.3C116.4,112.7 116.7,115.0 117.0,117.4C117.3,119.7 117.6,122.1 117.9,124.4C118.1,126.8 118.4,129.1 118.7,131.4C119.0,133.8 119.3,136.1 119.6,138.5C119.9,140.8 120.2,143.2 120.5,145.5C120.8,147.9 121.1,150.2 121.4,152.6C121.7,154.9 122.0,157.3 122.3,159.6C122.6,162.0 122.9,164.3 123.2,166.7C123.5,169.0 123.8,171.4 124.1,173.7C124.4,176.1 124.7,178.4 125.0,180.8C125.3,183.1 125.7,185.5 126.0,187.8C126.3,190.1 126.6,192.5 126.9,194.8C127.2,197.2 127.6,199.5 127.9,201.9C128.2,204.2 128.5,206.6 128.9,208.9C129.2,211.3 129.5,213.6 129.9,215.9C130.2,218.3 130.5,220.6 130.9,223.0C131.2,225.3 131.5,227.7 131.9,230.0C132.2,232.3 132.5,234.7 132.9,237.0C133.2,239.4 133.6,241.7 133.9,244.0C134.3,246.4 134.6,248.7 135.0,251.1C135.3,253.4 135.7,255.7 136.1,258.1C136.4,260.4 136.8,262.7 137.1,265.1C137.5,267.4 137.9,269.7 138.2,272.1C138.6,274.4 139.0,276.7 139.4,279.1C139.7,281.4 140.1,283.7 140.5,286.0C140.9,288.4 141.3,290.7 141.6,293.0C142.0,295.4 142.4,297.7 142.8,300.0C143.2,302.3 143.6,304.6 144.0,307.0C144.4,309.3 144.9,311.6 145.3,313.9C145.7,316.2 146.1,318.6 146.6,320.9C147.0,323.2 147.4,325.5 147.9,327.8C148.3,330.1 148.8,332.4 149.2,334.7C149.7,337.1 150.2,339.4 150.6,341.7C151.1,344.0 151.6,346.3 152.1,348.6C152.6,350.9 153.1,353.2 153.6,355.5C154.1,357.8 154.6,360.1 155.2,362.4C155.7,364.7 156.2,366.9 156.8,369.2C157.3,371.5 157.9,373.8 158.5,376.1C159.0,378.4 159.6,380.7 160.2,382.9C160.8,385.2 161.4,387.5 162.1,389.8C162.7,392.0 163.3,394.3 164.0,396.6C164.6,398.9 165.3,401.1 165.9,403.4C166.6,405.7 167.3,407.9 168.0,410.2C168.7,412.4 169.4,414.7 170.2,416.9C170.9,419.2 171.6,421.5 172.4,423.7C173.2,425.9 173.9,428.2 174.7,430.4C175.5,432.7 176.3,434.9 177.2,437.2C178.0,439.4 178.8,441.6 179.7,443.9C180.6,446.1 181.4,448.3 182.3,450.5C183.2,452.8 184.2,455.0 185.1,457.2C186.0,459.4 187.0,461.6 187.9,463.8C188.9,466.1 189.9,468.3 190.9,470.5C191.9,472.7 193.0,474.9 194.0,477.0C195.1,479.2 196.2,481.4 197.3,483.5C198.5,485.6 199.6,487.7 200.9,489.8C202.1,491.8 203.4,493.8 204.8,495.7C206.2,497.6 207.6,499.4 209.1,501.2C210.6,502.9 212.2,504.6 213.9,506.2C215.6,507.8 217.4,509.2 219.3,510.6C221.2,511.9 223.2,513.2 225.3,514.3C227.4,515.3 229.6,516.3 231.8,516.9C234.0,517.6 236.3,518.0 238.6,518.2C240.8,518.4 243.1,518.3 245.4,518.1C247.7,518.0 250.0,517.6 252.3,517.1C254.6,516.7 256.9,516.1 259.2,515.5C261.5,515.0 263.7,514.3 266.0,513.6C268.2,512.9 270.4,512.2 272.7,511.4C274.9,510.6 277.1,509.8 279.3,509.0C281.5,508.1 283.7,507.2 285.9,506.3C288.1,505.4 290.3,504.5 292.5,503.6C294.7,502.7 296.9,501.7 299.1,500.8C301.3,499.8 303.5,498.8 305.6,497.9C307.8,497.0 310.0,496.0 312.2,495.1C314.4,494.2 316.6,493.3 318.8,492.4C321.0,491.5 323.2,490.6 325.5,489.8C327.7,489.0 329.9,488.2 332.1,487.4C334.4,486.6 336.6,485.9 338.9,485.2C341.1,484.5 343.4,483.8 345.6,483.2C347.9,482.5 350.1,481.9 352.4,481.3C354.7,480.8 357.0,480.2 359.3,479.7C361.5,479.1 363.8,478.6 366.1,478.1C368.4,477.7 370.7,477.2 373.0,476.8C375.4,476.3 377.7,475.9 380.0,475.5C382.3,475.2 384.6,474.8 387.0,474.4C389.3,474.1 391.6,473.8 394.0,473.5C396.3,473.2 398.6,472.9 401.0,472.6C403.3,472.3 405.7,472.1 408.0,471.9C410.4,471.6 412.7,471.4 415.1,471.2C417.4,471.0 419.8,470.8 422.2,470.6C424.5,470.4 426.9,470.3 429.2,470.1C431.6,470.0 434.0,469.8 436.3,469.7C438.7,469.6 441.1,469.5 443.5,469.4C445.8,469.2 448.2,469.1 450.6,469.1C453.0,469.0 455.3,468.9 457.7,468.8C460.1,468.7 462.5,468.6 464.8,468.6C467.2,468.5 469.6,468.4 472.0,468.4C474.3,468.3 476.7,468.3 479.1,468.2C481.5,468.2 483.8,468.1 486.2,468.0C488.6,468.0 491.0,467.9 493.3,467.9C495.7,467.8 498.1,467.8 500.4,467.7C502.8,467.7 505.2,467.6 507.5,467.6C509.9,467.5 512.3,467.4 514.6,467.4C517.0,467.3 519.4,467.3 521.7,467.2C524.1,467.2 526.5,467.1 528.8,467.0C531.2,467.0 533.5,466.9 535.9,466.9C538.3,466.8 540.6,466.8 543.0,466.7C545.3,466.7 547.7,466.6 550.0,466.6C552.4,466.5 555.4,466.4 557.1,466.4C558.8,466.4 559.5,466.3 560.0,466.3"/>
<path d="M389.6,43.3C389.6,44.5 389.9,48.0 390.0,50.4C390.2,52.8 390.4,55.2 390.5,57.5C390.7,59.9 390.8,62.3 391.0,64.6C391.1,67.0 391.3,69.4 391.4,71.7C391.6,74.1 391.7,76.5 391.9,78.9C392.0,81.2 392.2,83.6 392.3,86.0C392.4,88.3 392.6,90.7 392.7,93.1C392.9,95.5 393.0,97.8 393.1,100.2C393.3,102.6 393.4,105.0 393.5,107.3C393.7,109.7 393.8,112.1 393.9,114.4C394.0,116.8 394.2,119.2 394.3,121.6C394.4,123.9 394.6,126.3 394.7,128.7C394.8,131.1 394.9,133.4 395.1,135.8C395.2,138.2 395.3,140.5 395.4,142.9C395.5,145.3 395.7,147.7 395.8,150.0C395.9,152.4 396.0,154.8 396.1,157.2C396.3,159.5 396.4,161.9 396.5,164.3C396.6,166.7 396.7,169.0 396.9,171.4C397.0,173.8 397.1,176.2 397.2,178.5C397.3,180.9 397.5,183.3 397.6,185.6C397.7,188.0 397.8,190.4 397.9,192.8C398.1,195.1 398.2,197.5 398.3,199.9C398.4,202.3 398.5,204.6 398.7,207.0C398.8,209.4 398.9,211.8 399.0,214.1C399.2,216.5 399.3,218.9 399.4,221.3C399.5,223.6 399.7,226.0 399.8,228.4C399.9,230.7 400.0,233.1 400.2,235.5C400.3,237.9 400.4,240.2 400.6,242.6C400.7,245.0 400.8,247.4 401.0,249.7C401.1,252.1 401.2,254.5 401.4,256.8C401.5,259.2 401.7,261.6 401.8,264.0C401.9,266.3 402.1,268.7 402.2,271.1C402.4,273.4 402.5,275.8 402.7,278.2C402.8,280.6 403.0,282.9 403.1,285.3C403.3,287.7 403.4,290.0 403.6,292.4C403.7,294.8 403.9,297.2 404.1,299.5C404.2,301.9 404.4,304.3 404.5,306.6C404.7,309.0 404.9,311.4 405.1,313.7C405.2,316.1 405.4,318.5 405.6,320.9C405.8,323.2 405.9,325.6 406.1,328.0C406.3,330.3 406.5,332.7 406.7,335.1C406.9,337.4 407.1,339.8 407.2,342.2C407.4,344.5 407.6,346.9 407.8,349.3C408.0,351.6 408.3,354.0 408.5,356.4C408.7,358.7 408.9,361.1 409.1,363.5C409.3,365.8 409.5,368.2 409.8,370.6C410.0,372.9 410.2,375.3 410.4,377.7C410.7,380.0 410.9,382.4 411.1,384.8C411.4,387.1 411.6,389.5 411.9,391.8C412.1,394.2 412.4,396.6 412.6,398.9C412.9,401.3 413.1,403.7 413.4,406.0C413.7,408.4 413.9,410.7 414.2,413.1C414.5,415.5 414.8,417.8 415.1,420.2C415.3,422.5 415.6,424.9 415.9,427.3C416.2,429.6 416.5,432.0 416.8,434.3C417.1,436.7 417.6,440.2 417.7,441.4L417.4,442.2C418.5,442.6 422.0,444.0 424.3,444.8C426.6,445.7 428.9,446.5 431.2,447.3C433.5,448.1 435.8,448.8 438.1,449.6C440.4,450.3 442.8,451.0 445.1,451.7C447.4,452.3 449.8,453.0 452.1,453.6C454.4,454.2 456.8,454.8 459.1,455.3C461.5,455.9 463.9,456.4 466.2,456.9C468.6,457.4 470.9,457.9 473.3,458.3C475.7,458.8 478.1,459.2 480.4,459.6C482.8,460.0 485.2,460.4 487.6,460.8C490.0,461.1 492.3,461.4 494.7,461.8C497.1,462.1 499.5,462.4 501.9,462.6C504.3,462.9 506.7,463.2 509.1,463.4C511.5,463.6 513.9,463.9 516.4,464.1C518.8,464.3 521.2,464.4 523.6,464.6C526.0,464.8 528.4,464.9 530.8,465.1C533.3,465.2 535.7,465.3 538.1,465.4C540.5,465.5 543.0,465.6 545.4,465.7C547.8,465.8 550.2,465.9 552.7,465.9C555.1,466.0 558.8,466.0 560.0,466.1C561.2,466.1 560.0,466.1 560.0,466.1"/>
<path stroke-dasharray="3.1 2.9" stroke-dashoffset="4.2" d="M560,465.7H668.6"/>
<path stroke-dasharray="4.6 1.4" d="M669.3,465.7H713.2"/>
</g>
</g>
<path d="M244.4,711.9H255" stroke="#f00" stroke-width="2"/>
<path d="M544.4,164.7H588.7" stroke="#000" stroke-width="2"/>
<path d="M544.6,225.6H589.5" stroke="#00f" stroke-width="2.1" stroke-dasharray="2.1 3.93"/>
<path d="M544.4,286.3H588.7" stroke="#f00" stroke-width="2" stroke-dasharray="11.1 7.6"/>
<g><path d="M616.4,153.6V164.7" fill="none" stroke="#000" stroke-width="2.3"/><path d="M617.4,157.2C618.1,155.3 619.4,154.3 621.0,154.3C623.2,154.3 624.7,155.5 624.7,158.0V164.7M625.7,157.2C626.4,155.3 627.7,154.3 629.3,154.3C631.1,154.3 632.6,155.5 632.6,158.0V164.7" fill="none" stroke="#000" stroke-width="2.0"/><path d="M613.5,154.3H616.4M613.5,164.7H619.3M621.9,164.7H627.6M629.8,164.7H635.6" fill="none" stroke="#000" stroke-width="1.3"/><path d="M640.9,153.6V164.7" fill="none" stroke="#000" stroke-width="2.3"/><path d="M637.9,154.3H640.9M637.9,164.7H643.9" fill="none" stroke="#000" stroke-width="1.3"/><circle cx="640.7" cy="150.1" r="1.5" fill="#000"/><path d="M665.6,153.6V164.7" fill="none" stroke="#000" stroke-width="2.3"/><path d="M662.6,154.3H665.6M662.6,164.7H668.6" fill="none" stroke="#000" stroke-width="1.3"/><circle cx="665.4" cy="150.1" r="1.5" fill="#000"/><path d="M649.2,153.6V164.7" fill="none" stroke="#000" stroke-width="2.3"/><path d="M650.2,157.2C650.9,155.3 652.2,154.3 653.8,154.3C655.6,154.3 657.1,155.5 657.1,158.0V164.7" fill="none" stroke="#000" stroke-width="2.0"/><path d="M646.2,154.3H649.2M646.2,164.7H652.3M654.1,164.7H660.1" fill="none" stroke="#000" stroke-width="1.3"/><path d="M673.9,148.5V164.7" fill="none" stroke="#000" stroke-width="2.3"/><path d="M674.9,157.2C675.6,155.3 676.9,154.3 678.5,154.3C680.4,154.3 681.9,155.5 681.9,158.0V164.7" fill="none" stroke="#000" stroke-width="2.0"/><path d="M670.7,149.1H673.9M670.7,164.7H677.1M678.9,164.7H685" fill="none" stroke="#000" stroke-width="1.3"/><g transform="translate(-9.2,0.2)"><path d="M697.7,157.1C698,155.2 699.8,154.2 701.3,154.2C703.8,154.2 705.1,155.7 705.1,158V162.2C705.1,164 706.6,164.6 709.2,163.6" fill="none" stroke="#000" stroke-width="2.1"/><path d="M705.1,158.7C701,158.9 697,159.5 697,162C697,163.7 698.4,164.5 700.2,164.5C702.3,164.5 704.2,163.5 705.1,161.8" fill="none" stroke="#000" stroke-width="1.8"/><circle cx="697.9" cy="157" r="1.3" fill="#000"/></g><path d="M704.9,148.5V164.7" fill="none" stroke="#000" stroke-width="2.3"/><path d="M701.9,149.1H704.9M701.9,164.7H707.9" fill="none" stroke="#000" stroke-width="1.3"/><path fill-rule="evenodd" fill="#000" d="M716.8,152.9a6.6,6.4 0 1,0 0.001,0zM716.8,154.4a4.3,4.9 0 1,1 -0.001,0z"/><path d="M615.3,210.5V225.7M620.5,225.5L625.5,210.5" fill="none" stroke="#00f" stroke-width="1.5"/><path d="M615.7,210.5L620.4,224.8" fill="none" stroke="#00f" stroke-width="2.7"/><path d="M625.6,210.5V225.7" fill="none" stroke="#00f" stroke-width="2.7"/><path d="M613.2,210.5H616.2M625.6,210.5H628.3M613.2,225.7H617.8M622.8,225.7H628.3" fill="none" stroke="#00f" stroke-width="1.5"/><path d="M633.7,210.5V225.7" fill="none" stroke="#00f" stroke-width="2.7"/><path d="M629.9,210.5H637.6M629.9,225.7H637.6" fill="none" stroke="#00f" stroke-width="1.5"/><path d="M642.5,210.5V225.7" fill="none" stroke="#00f" stroke-width="2.7"/><path d="M639,210.5H642.5M639,225.7H646.6" fill="none" stroke="#00f" stroke-width="1.5"/><path d="M642.5,210.5H649.5C653.4,210.5 654.8,212.3 654.8,214.7C654.8,217.2 653.2,218.9 649.5,218.9H642.5" fill="none" stroke="#00f" stroke-width="1.7"/><path d="M668.5,213.7C667.8,211.4 666,210.5 663.6,210.5C660.5,210.5 658.4,212 658.4,214.3C658.4,216.5 660,217.4 663.7,218.3C667.4,219.2 669.1,220.2 669.1,222.3C669.1,224.6 667,225.8 663.8,225.8C660.9,225.8 658.8,224.8 658,222.4" fill="none" stroke="#00f" stroke-width="1.9"/><path d="M668.9,210.1V214.3M657.7,221.8V226.2" fill="none" stroke="#00f" stroke-width="1.3"/><path d="M615.3,270.9V286.3M620.5,286.1L625.5,270.9" fill="none" stroke="#f00" stroke-width="1.5"/><path d="M615.7,270.9L620.4,285.4" fill="none" stroke="#f00" stroke-width="2.7"/><path d="M625.6,270.9V286.3" fill="none" stroke="#f00" stroke-width="2.7"/><path d="M613.2,270.9H616.2M625.6,270.9H628.3M613.2,286.3H617.8M622.8,286.3H628.3" fill="none" stroke="#f00" stroke-width="1.5"/><path d="M633.5,270.9V286.3M643.5,270.9V286.3" fill="none" stroke="#f00" stroke-width="2.7"/><path d="M629.8,270.9H637.2M639.8,270.9H647.2M629.8,286.3H637.2M639.8,286.3H647.2M633.5,278.8H643.5" fill="none" stroke="#f00" stroke-width="1.5"/><path d="M651.9,270.9V286.3" fill="none" stroke="#f00" stroke-width="2.7"/><path d="M648.2,270.9H651.9M648.2,286.3H655.9" fill="none" stroke="#f00" stroke-width="1.5"/><path d="M651.9,270.9H657.5C660.7,270.9 662.1,272.6 662.1,274.8C662.1,277.2 660.5,278.8 657.5,278.8H651.9" fill="none" stroke="#f00" stroke-width="1.7"/><path d="M656.4,278.8C658.3,280 658.8,283 659.8,285C660.6,286.5 662.2,286.7 663.6,285.6" fill="none" stroke="#f00" stroke-width="2.2"/></g>
<g fill="#000">
<g transform="translate(62.9,719.5)"><path fill-rule="evenodd" d="M5.75,-15.6a5.8,7.85 0 1,0 0.001,0zM5.75,-14.05a2.85,6.3 0 1,1 -0.001,0z"/></g>
<g transform="translate(62.9,598.0)"><path fill="none" stroke="#000" stroke-width="2.4" stroke-linecap="round" d="M1.2,-11.6C1.3,-13.5 3.2,-14.4 5.6,-14.4C8.3,-14.4 10.0,-13.0 10.0,-10.9C10.0,-8.9 8.5,-7.7 6.2,-6.4C3.6,-4.9 1.5,-3.5 1.2,-1.4M1.4,-3.1C2.4,-3.8 3.6,-3.6 5.0,-2.6C6.4,-1.6 7.5,-1.2 8.6,-1.3C9.5,-1.4 9.9,-2.1 10.1,-3.3"/><circle cx="1.7" cy="-10.9" r="1.5"/></g>
<g transform="translate(62.9,476.4)"><path fill="none" stroke="#000" stroke-width="2.7" d="M8.05,-15V-0.8"/><path fill="none" stroke="#000" stroke-width="1.8" d="M7.5,-14.5L0.8,-5.3M5.2,-0.8H10.7"/><path fill="none" stroke="#000" stroke-width="2.1" d="M0.1,-4.9H11.4"/></g>
<g transform="translate(62.9,354.9)"><path fill="none" stroke="#000" stroke-width="2.5" stroke-linecap="round" d="M9.8,-12.5C9.4,-13.9 8.0,-14.4 6.4,-14.4C3.1,-14.4 1.35,-11 1.35,-6.5C1.35,-3.1 3.1,-1.25 5.8,-1.25C8.4,-1.25 10.05,-2.8 10.05,-4.9C10.05,-7.1 8.4,-8.5 5.9,-8.5C3.6,-8.5 1.7,-7.2 1.45,-5"/><circle cx="9.5" cy="-12.1" r="1.4"/></g>
<g transform="translate(62.9,233.3)"><path fill="none" stroke="#000" stroke-width="2.6" d="M5.65,-14.25a3.55,2.95 0 1,0 0.001,0zM5.65,-8.25a4.4,3.5 0 1,0 0.001,0z"/></g>
<g transform="translate(52.1,111.8)"><path fill="none" stroke="#000" stroke-width="2.5" d="M3.9,-15.5V-0.8"/><path fill="none" stroke="#000" stroke-width="2" d="M3.4,-14.4L0.7,-12.5M0.3,-0.9H6.8"/></g>
<g transform="translate(62.8,111.8)"><path fill-rule="evenodd" d="M5.75,-15.6a5.8,7.85 0 1,0 0.001,0zM5.75,-14.05a2.85,6.3 0 1,1 -0.001,0z"/></g>
<g transform="translate(71.6,738.5)"><path fill-rule="evenodd" d="M5.75,-15.6a5.8,7.85 0 1,0 0.001,0zM5.75,-14.05a2.85,6.3 0 1,1 -0.001,0z"/></g>
<g transform="translate(86.7,738.5)"><circle cx="0" cy="-1.3" r="1.4"/></g>
<g transform="translate(93.4,738.5)"><path fill="none" stroke="#000" stroke-width="2.5" d="M3.9,-15.5V-0.8"/><path fill="none" stroke="#000" stroke-width="2" d="M3.4,-14.4L0.7,-12.5M0.3,-0.9H6.8"/></g>
<g transform="translate(250.6,738.5)"><path fill="none" stroke="#000" stroke-width="2.5" d="M3.9,-15.5V-0.8"/><path fill="none" stroke="#000" stroke-width="2" d="M3.4,-14.4L0.7,-12.5M0.3,-0.9H6.8"/></g>
<g transform="translate(411.3,738.5)"><path fill="none" stroke="#000" stroke-width="2.5" d="M3.9,-15.5V-0.8"/><path fill="none" stroke="#000" stroke-width="2" d="M3.4,-14.4L0.7,-12.5M0.3,-0.9H6.8"/></g>
<g transform="translate(421.9,738.5)"><path fill-rule="evenodd" d="M5.75,-15.6a5.8,7.85 0 1,0 0.001,0zM5.75,-14.05a2.85,6.3 0 1,1 -0.001,0z"/></g>
<g transform="translate(571.3,738.5)"><path fill="none" stroke="#000" stroke-width="2.5" d="M3.9,-15.5V-0.8"/><path fill="none" stroke="#000" stroke-width="2" d="M3.4,-14.4L0.7,-12.5M0.3,-0.9H6.8"/></g>
<g transform="translate(581.7,738.5)"><path fill-rule="evenodd" d="M5.75,-15.6a5.8,7.85 0 1,0 0.001,0zM5.75,-14.05a2.85,6.3 0 1,1 -0.001,0z"/></g>
<g transform="translate(594.9,738.5)"><path fill-rule="evenodd" d="M5.75,-15.6a5.8,7.85 0 1,0 0.001,0zM5.75,-14.05a2.85,6.3 0 1,1 -0.001,0z"/></g>
<g transform="translate(732.8,738.5)"><path fill="none" stroke="#000" stroke-width="2.5" d="M3.9,-15.5V-0.8"/><path fill="none" stroke="#000" stroke-width="2" d="M3.4,-14.4L0.7,-12.5M0.3,-0.9H6.8"/></g>
<g transform="translate(743.1,738.5)"><path fill-rule="evenodd" d="M5.75,-15.6a5.8,7.85 0 1,0 0.001,0zM5.75,-14.05a2.85,6.3 0 1,1 -0.001,0z"/></g>
<g transform="translate(755.9,738.5)"><path fill-rule="evenodd" d="M5.75,-15.6a5.8,7.85 0 1,0 0.001,0zM5.75,-14.05a2.85,6.3 0 1,1 -0.001,0z"/></g>
<g transform="translate(768.7,738.5)"><path fill-rule="evenodd" d="M5.75,-15.6a5.8,7.85 0 1,0 0.001,0zM5.75,-14.05a2.85,6.3 0 1,1 -0.001,0z"/></g>
</g>
<g class="s" fill="#000">
</g>
<g><path d="M331,760V784.1" fill="none" stroke="#000" stroke-width="2.9"/><path d="M326.2,760H337M326.2,784.1H336.6" fill="none" stroke="#000" stroke-width="1.5"/><path d="M331,760H340C345,760 347.3,762.7 347.3,766.1C347.3,769.7 344.6,772.1 340,772.1H331" fill="none" stroke="#000" stroke-width="1.9"/><path d="M338.4,772.1C341,774 341.8,779 343.2,782C344.3,784.2 346.7,784.3 347.6,780.5" fill="none" stroke="#000" stroke-width="2.2"/><path d="M377.6,755.5C371.3,760.6 367.8,767 367.8,773.4C367.8,779.8 371.3,785.9 377,790.9L377.9,790C373.2,785.4 370.8,779.8 370.8,773.4C370.8,767 373.2,761 378.4,756.3Z" fill="#000"/><path d="M386.3,759.4V784.1" fill="none" stroke="#000" stroke-width="2.8"/><path d="M382.2,759.9H386.3M382.2,784.1H391M395.2,784.1H403" fill="none" stroke="#000" stroke-width="1.5"/><path d="M387.4,773.2C389.4,769.6 392,768.4 394.5,768.4C397.7,768.4 399.1,770.3 399.1,773.6V784.1" fill="none" stroke="#000" stroke-width="2.2"/><path d="M406.1,767.3H417.8" fill="none" stroke="#000" stroke-width="1.9"/><path d="M427.2,759.4V773" fill="none" stroke="#000" stroke-width="2.2"/><path d="M427,760.3L423.9,762.7M423.6,773H430.6" fill="none" stroke="#000" stroke-width="1.6"/><path d="M455.1,760.3V784.1M464.8,783.8L474,760.3" fill="none" stroke="#000" stroke-width="1.5"/><path d="M455.7,760.3L464.7,783" fill="none" stroke="#000" stroke-width="2.8"/><path d="M474,760.3V784.1" fill="none" stroke="#000" stroke-width="2.8"/><path d="M451.8,760.3H456.5M474,760.3H478M451.8,784.1H459M470,784.1H478" fill="none" stroke="#000" stroke-width="1.5"/><path d="M483.7,768.5V790.9" fill="none" stroke="#000" stroke-width="2.7"/><path d="M479.4,768.8H483.7M479.4,790.9H488.5" fill="none" stroke="#000" stroke-width="1.5"/><path d="M484.6,771.9C486.5,769.3 488.8,768.4 491.3,768.4C495.9,768.4 498.9,771.8 498.9,776.4C498.9,781 495.9,784.2 491.5,784.2C488.6,784.2 486.3,783.1 484.6,780.8" fill="none" stroke="#000" stroke-width="2.1"/><path d="M516.6,772.4C515.5,769.6 513,768.4 510,768.4C505.5,768.4 502.3,771.8 502.3,776.4C502.3,781 505.5,784.2 509.8,784.2C513.5,784.2 516.2,782.6 517.5,780.2" fill="none" stroke="#000" stroke-width="2.1"/><circle cx="516.1" cy="772.7" r="1.7" fill="#000"/><path d="M522.4,755.5C528.7,760.6 532.2,767 532.2,773.4C532.2,779.8 528.7,785.9 523,790.9L522.1,790C526.8,785.4 529.2,779.8 529.2,773.4C529.2,767 526.8,761 521.6,756.3Z" fill="#000"/></g>
<g><ellipse cx="20.5" cy="385.9" rx="7.6" ry="6.1" transform="rotate(24 20.5 385.9)" fill="none" stroke="#000" stroke-width="2.5"/><path d="M13.9,380.2C11.8,382.6 9,386.3 6.6,386.3C4.6,386.3 3.4,384.8 3.4,383C3.4,381.2 5,379.4 6.9,378.6" fill="none" stroke="#000" stroke-width="2.4"/><path d="M24,372.6H38.6M38.2,367.1L24,362.3" fill="none" stroke="#000" stroke-width="1.7"/><path d="M24,372.3L37.5,367.4" fill="none" stroke="#000" stroke-width="2.9"/><path d="M24,362.1H38.6" fill="none" stroke="#000" stroke-width="2.9"/><path d="M24,370.8V374.4M24,360.4V363M38.6,369.8V374.4M38.6,360.4V364.8" fill="none" stroke="#000" stroke-width="1.7"/></g>
</svg></body></html>
